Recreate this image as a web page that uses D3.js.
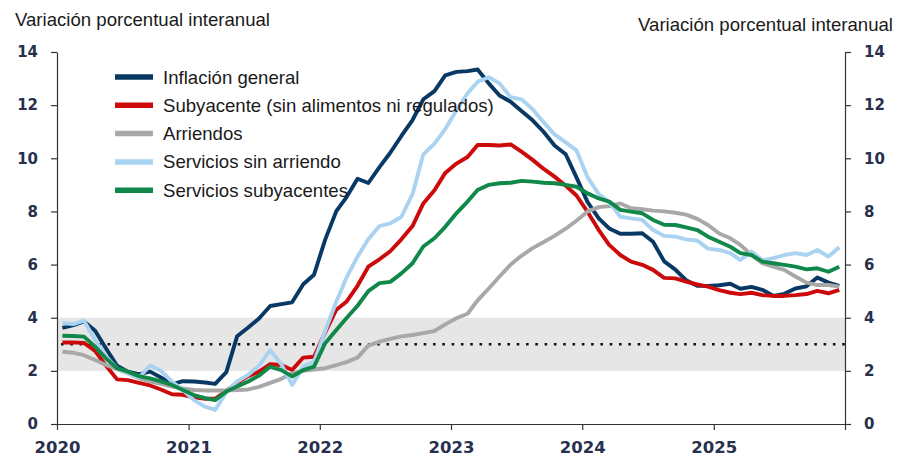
<!DOCTYPE html>
<html>
<head>
<meta charset="utf-8">
<script src="https://cdn.jsdelivr.net/npm/d3@7"></script>
<style>
  body { margin: 0; background: #fff; }
  .tick text { font-family: "DejaVu Sans", sans-serif; font-weight: bold; fill: #27304c; }
  .tick line, .domain { stroke: #333; stroke-width: 1.2; }
  .titulo, .leyenda text { font-family: "Liberation Sans", Arial, sans-serif; fill: #1a1a1a; }
</style>
</head>
<body>
<div id="grafico"></div>
<script>
// Etiquetas de años del eje X
let yearLabels = ['2020', '2021', '2022', '2023', '2024', '2025'];

// Series mensuales, ene-2020 a dic-2025 (variación % anual)
let inflacionGeneral = [
  3.62, 3.72, 3.86, 3.51, 2.85, 2.19, 1.97, 1.88, 1.97, 1.75, 1.49, 1.61,
  1.60, 1.56, 1.51, 1.95, 3.30, 3.63, 3.97, 4.44, 4.51, 4.58, 5.26, 5.62,
  6.94, 8.01, 8.53, 9.23, 9.07, 9.67, 10.21, 10.84, 11.44, 12.22, 12.53, 13.12,
  13.25, 13.28, 13.34, 12.82, 12.36, 12.13, 11.78, 11.43, 10.99, 10.48, 10.15, 9.28,
  8.35, 7.74, 7.36, 7.16, 7.16, 7.18, 6.86, 6.12, 5.81, 5.41, 5.20, 5.20,
  5.22, 5.28, 5.09, 5.16, 5.05, 4.82, 4.90, 5.10, 5.18, 5.51, 5.32, 5.20
];
let subyacente = [
  3.07, 3.07, 3.05, 2.75, 2.20, 1.68, 1.65, 1.55, 1.45, 1.30, 1.12, 1.10,
  1.00, 0.95, 0.95, 1.25, 1.55, 1.80, 1.97, 2.25, 2.22, 2.03, 2.50, 2.53,
  3.45, 4.30, 4.60, 5.20, 5.92, 6.20, 6.50, 6.95, 7.45, 8.30, 8.80, 9.45,
  9.80, 10.05, 10.50, 10.50, 10.48, 10.52, 10.25, 9.94, 9.60, 9.31, 8.97, 8.60,
  7.98, 7.30, 6.74, 6.36, 6.11, 5.99, 5.80, 5.50, 5.48, 5.36, 5.25, 5.17,
  5.04, 4.94, 4.89, 4.94, 4.85, 4.82, 4.82, 4.85, 4.89, 5.01, 4.92, 5.05
];
let arriendos = [
  2.72, 2.68, 2.59, 2.41, 2.22, 2.06, 1.91, 1.72, 1.60, 1.51, 1.41, 1.34,
  1.28, 1.26, 1.26, 1.26, 1.28, 1.30, 1.40, 1.55, 1.70, 1.90, 2.00, 2.05,
  2.10, 2.22, 2.33, 2.50, 2.95, 3.10, 3.20, 3.30, 3.35, 3.42, 3.50, 3.75,
  3.98, 4.15, 4.65, 5.10, 5.55, 6.00, 6.33, 6.62, 6.85, 7.08, 7.35, 7.65,
  8.00, 8.16, 8.20, 8.30, 8.12, 8.08, 8.03, 8.00, 7.95, 7.88, 7.72, 7.49,
  7.17, 6.99, 6.74, 6.36, 6.05, 5.92, 5.80, 5.55, 5.32, 5.23, 5.23, 5.17
];
let serviciosSinArriendo = [
  3.79, 3.76, 3.89, 3.16, 2.54, 2.10, 1.90, 1.75, 2.20, 2.00, 1.60, 1.28,
  0.90, 0.65, 0.53, 1.20, 1.60, 1.85, 2.20, 2.78, 2.25, 1.47, 2.15, 2.35,
  3.50, 4.60, 5.50, 6.30, 6.95, 7.45, 7.55, 7.80, 8.65, 10.15, 10.55, 11.10,
  11.80, 12.45, 12.88, 13.05, 12.82, 12.30, 12.22, 11.85, 11.35, 10.90, 10.60, 10.30,
  9.28, 8.65, 8.35, 7.80, 7.74, 7.68, 7.30, 7.08, 7.05, 6.95, 6.90, 6.60,
  6.55, 6.43, 6.17, 6.49, 6.17, 6.24, 6.36, 6.43, 6.36, 6.55, 6.30, 6.65
];
let serviciosSubyacentes = [
  3.32, 3.31, 3.29, 2.91, 2.47, 2.10, 1.97, 1.80, 1.72, 1.60, 1.47, 1.28,
  1.09, 0.97, 0.90, 1.22, 1.41, 1.60, 1.82, 2.16, 2.03, 1.79, 2.03, 2.16,
  3.04, 3.54, 3.98, 4.45, 5.00, 5.30, 5.35, 5.67, 6.05, 6.68, 6.99, 7.42,
  7.93, 8.37, 8.81, 9.00, 9.06, 9.08, 9.15, 9.12, 9.08, 9.06, 9.00, 8.93,
  8.68, 8.49, 8.37, 8.06, 7.99, 7.93, 7.68, 7.50, 7.49, 7.40, 7.30, 7.05,
  6.86, 6.67, 6.43, 6.36, 6.11, 6.05, 5.99, 5.92, 5.82, 5.86, 5.73, 5.92
];

let yTicks = [0, 2, 4, 6, 8, 10, 12, 14];
let rangoMeta = [2, 4];
let meta = 3;

let series = [
  { nombre: 'Inflación general', valores: inflacionGeneral, color: '#083864' },
  { nombre: 'Subyacente (sin alimentos ni regulados)', valores: subyacente, color: '#cc0a0a' },
  { nombre: 'Arriendos', valores: arriendos, color: '#a8a8a8' },
  { nombre: 'Servicios sin arriendo', valores: serviciosSinArriendo, color: '#a9d3f1' },
  { nombre: 'Servicios subyacentes', valores: serviciosSubyacentes, color: '#10884a' }
];

let width = 898, height = 462;
let margin = { left: 57, right: 53, top: 52, bottom: 38 };

let svg = d3.select('#grafico').append('svg').attr('width', width).attr('height', height);

// Escalas
let x = d3.scaleTime()
  .domain([new Date(2020, 0, 1), new Date(2026, 0, 1)])
  .range([margin.left, width - margin.right]);
let y = d3.scaleLinear().domain([0, 14]).range([height - margin.bottom, margin.top]);

// Punto a mitad de cada mes
let mes = i => new Date(2020, i, 16);

// Banda gris del rango meta
svg.append('rect')
  .attr('x', x.range()[0])
  .attr('y', y(rangoMeta[1]))
  .attr('width', x.range()[1] - x.range()[0])
  .attr('height', y(rangoMeta[0]) - y(rangoMeta[1]))
  .attr('fill', '#e6e6e6');

// Línea punteada de la meta
svg.append('line')
  .attr('x1', x.range()[0] + 4).attr('x2', x.range()[1])
  .attr('y1', y(meta)).attr('y2', y(meta))
  .attr('stroke', '#111').attr('stroke-width', 2.6)
  .attr('stroke-dasharray', '2.6,6.7');

// Ejes
let years = yearLabels.map(d => new Date(+d, 0, 1)).concat([new Date(2026, 0, 1)]);
svg.append('g')
  .attr('transform', `translate(0,${y(0)})`)
  .call(d3.axisBottom(x).tickValues(years).tickSize(6).tickSizeOuter(0)
    .tickFormat(d => d.getFullYear() < 2026 ? d.getFullYear() : ''))
  .call(g => g.selectAll('text').attr('dy', '1.2em').style('font-size', '16.5px'));

svg.append('g')
  .attr('transform', `translate(${x.range()[0]},0)`)
  .call(d3.axisLeft(y).tickValues(yTicks).tickSize(6).tickSizeOuter(0).tickPadding(13))
  .call(g => g.selectAll('text').style('font-size', '15px'));

svg.append('g')
  .attr('transform', `translate(${x.range()[1]},0)`)
  .call(d3.axisRight(y).tickValues(yTicks).tickSize(6).tickSizeOuter(0).tickPadding(13))
  .call(g => g.selectAll('text').style('font-size', '15px'));

// Líneas de las series
let linea = d3.line().x((d, i) => x(mes(i))).y(d => y(d));

svg.append('g').selectAll('path')
  .data(series)
  .enter()
  .append('path')
  .attr('d', d => linea(d.valores))
  .attr('fill', 'none')
  .attr('stroke', d => d.color)
  .attr('stroke-width', 3.9)
  .attr('stroke-linejoin', 'round');

// Títulos de los ejes
svg.append('text').attr('class', 'titulo')
  .attr('x', 15).attr('y', 26)
  .style('font-size', '18.6px')
  .text('Variación porcentual interanual');

svg.append('text').attr('class', 'titulo')
  .attr('x', 893).attr('y', 31)
  .attr('text-anchor', 'end')
  .style('font-size', '18.6px')
  .text('Variación porcentual interanual');

// Leyenda
let leyenda = svg.append('g').attr('class', 'leyenda')
  .selectAll('g')
  .data(series)
  .enter()
  .append('g')
  .attr('transform', (d, i) => `translate(115,${77 + i * 28.3})`);

leyenda.append('line')
  .attr('x1', 0).attr('x2', 38)
  .attr('stroke', d => d.color)
  .attr('stroke-width', 5.5);

leyenda.append('text')
  .attr('x', 48).attr('dy', '0.35em')
  .style('font-size', '18.6px')
  .text(d => d.nombre);
</script>
</body>
</html>
